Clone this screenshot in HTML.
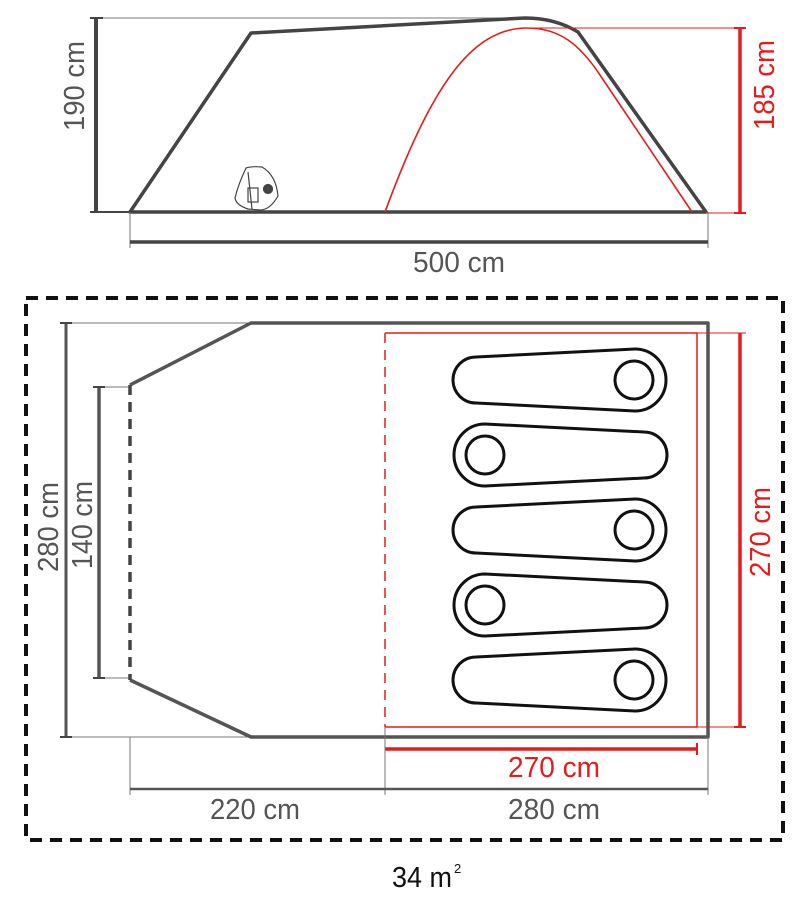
<!DOCTYPE html>
<html><head><meta charset="utf-8"><style>
html,body{margin:0;padding:0;background:#fff}
svg{display:block}
text{font-family:"Liberation Sans",Arial,sans-serif;font-size:29px}
</style></head><body>
<svg width="808" height="900" viewBox="0 0 808 900" xmlns="http://www.w3.org/2000/svg">
<!-- TOP SIDE VIEW -->
<line x1="96" y1="18" x2="528" y2="18" stroke="#777" stroke-width="1"/>
<line x1="96" y1="18" x2="96" y2="212" stroke="#444" stroke-width="4"/>
<line x1="90" y1="18" x2="103" y2="18" stroke="#444" stroke-width="2"/>
<line x1="90" y1="212" x2="130" y2="212" stroke="#444" stroke-width="2"/>
<text transform="translate(84,86) rotate(-90)" text-anchor="middle" fill="#555" textLength="90" lengthAdjust="spacingAndGlyphs">190 cm</text>
<path d="M130,212 L251,33 L525,18 Q555,18 578,32 L706,212 Z" fill="none" stroke="#444" stroke-width="3.5" stroke-linejoin="round"/>
<path d="M385,212 C430,90 470,28 527,28 C560,28 580,45 600,75 L692,212" fill="none" stroke="#e51c1c" stroke-width="1.6"/>
<line x1="527" y1="28" x2="745" y2="28" stroke="#e51c1c" stroke-width="1"/>
<line x1="706" y1="213" x2="745" y2="213" stroke="#e51c1c" stroke-width="1"/>
<line x1="740" y1="28" x2="740" y2="213" stroke="#e51c1c" stroke-width="3.5"/>
<line x1="734" y1="28" x2="746" y2="28" stroke="#e51c1c" stroke-width="2"/>
<line x1="734" y1="213" x2="746" y2="213" stroke="#e51c1c" stroke-width="2"/>
<text transform="translate(774,85) rotate(-90)" text-anchor="middle" fill="#e51c1c" textLength="90" lengthAdjust="spacingAndGlyphs">185 cm</text>
<line x1="130" y1="212" x2="130" y2="248" stroke="#777" stroke-width="1"/>
<line x1="708" y1="212" x2="708" y2="248" stroke="#777" stroke-width="1"/>
<line x1="130" y1="242" x2="708" y2="242" stroke="#444" stroke-width="3.5"/>
<text x="459" y="272" text-anchor="middle" fill="#555" textLength="92" lengthAdjust="spacingAndGlyphs">500 cm</text>
<!-- bag icon -->
<g fill="none" stroke="#444" stroke-width="1.2">
<path d="M246,168 Q252,166 262,167 Q276,175 278,196 Q270,210 260,210 L248,209 Q236,205 235,198 Q238,185 246,168 Z"/>
<path d="M248,172 L252,209"/>
<rect x="248" y="188" width="10" height="14"/>
<circle cx="268" cy="189" r="4.5" fill="#444"/>
</g>
<!-- BOTTOM PLAN -->
<rect x="26" y="298" width="757" height="542" fill="none" stroke="#111" stroke-width="4" stroke-dasharray="12,8"/>
<line x1="62" y1="323" x2="251" y2="323" stroke="#777" stroke-width="1"/>
<line x1="62" y1="737" x2="251" y2="737" stroke="#777" stroke-width="1"/>
<line x1="66" y1="323" x2="66" y2="737" stroke="#555" stroke-width="3"/>
<line x1="60" y1="323" x2="72" y2="323" stroke="#444" stroke-width="2"/>
<line x1="60" y1="737" x2="72" y2="737" stroke="#444" stroke-width="2"/>
<line x1="94" y1="387" x2="130" y2="387" stroke="#777" stroke-width="1"/>
<line x1="94" y1="678" x2="130" y2="678" stroke="#777" stroke-width="1"/>
<line x1="99" y1="387" x2="99" y2="678" stroke="#555" stroke-width="3.5"/>
<line x1="93" y1="387" x2="105" y2="387" stroke="#444" stroke-width="2"/>
<line x1="93" y1="678" x2="105" y2="678" stroke="#444" stroke-width="2"/>
<text transform="translate(58,527) rotate(-90)" text-anchor="middle" fill="#555" textLength="90" lengthAdjust="spacingAndGlyphs">280 cm</text>
<text transform="translate(92,525) rotate(-90)" text-anchor="middle" fill="#555" textLength="88" lengthAdjust="spacingAndGlyphs">140 cm</text>
<path d="M130,385 L251,323 L708,323 L708,737 L251,737 L130,680" fill="none" stroke="#555" stroke-width="3.5" stroke-linejoin="round"/>
<line x1="130" y1="385" x2="130" y2="680" stroke="#444" stroke-width="3.5" stroke-dasharray="10,7"/>
<!-- red inner -->
<path d="M385,333 L697,333 L697,727 L385,727" fill="none" stroke="#e51c1c" stroke-width="1.5"/>
<line x1="385" y1="333" x2="385" y2="727" stroke="#e51c1c" stroke-width="1.5" stroke-dasharray="10,7"/>
<line x1="697" y1="333" x2="746" y2="333" stroke="#e51c1c" stroke-width="1"/>
<line x1="697" y1="727" x2="746" y2="727" stroke="#e51c1c" stroke-width="1"/>
<line x1="740" y1="333" x2="740" y2="727" stroke="#e51c1c" stroke-width="3.5"/>
<line x1="734" y1="727" x2="746" y2="727" stroke="#e51c1c" stroke-width="2"/>
<text transform="translate(770,532) rotate(-90)" text-anchor="middle" fill="#e51c1c" textLength="90" lengthAdjust="spacingAndGlyphs">270 cm</text>
<line x1="385" y1="749" x2="697" y2="749" stroke="#e51c1c" stroke-width="3.5"/>
<line x1="697" y1="743" x2="697" y2="755" stroke="#e51c1c" stroke-width="2"/>
<text x="554" y="777" text-anchor="middle" fill="#e51c1c" textLength="92" lengthAdjust="spacingAndGlyphs">270 cm</text>
<line x1="130" y1="737" x2="130" y2="795" stroke="#777" stroke-width="1"/>
<line x1="385" y1="727" x2="385" y2="795" stroke="#777" stroke-width="1"/>
<line x1="708" y1="737" x2="708" y2="795" stroke="#777" stroke-width="1"/>
<line x1="130" y1="789" x2="708" y2="789" stroke="#555" stroke-width="2.5"/>
<text x="255" y="819" text-anchor="middle" fill="#555" textLength="90" lengthAdjust="spacingAndGlyphs">220 cm</text>
<text x="554" y="819" text-anchor="middle" fill="#555" textLength="92" lengthAdjust="spacingAndGlyphs">280 cm</text>
<text x="392" y="887" fill="#111" textLength="60" lengthAdjust="spacingAndGlyphs">34 m</text><text x="454" y="873" fill="#111" style="font-size:13px">2</text>
<!-- sleeping bags -->
<g fill="none" stroke="#111" stroke-width="3">
<path d="M476,357 L635,349 A31,31 0 0 1 635,411 L476,403 A23,23 0 0 1 476,357 Z"/>
<circle cx="634" cy="380" r="19"/>
<path d="M485,424 L644,432 A23,23 0 0 1 644,478 L485,486 A31,31 0 0 1 485,424 Z"/>
<circle cx="485" cy="455" r="19"/>
<path d="M476,507 L635,499 A31,31 0 0 1 635,561 L476,553 A23,23 0 0 1 476,507 Z"/>
<circle cx="634" cy="530" r="19"/>
<path d="M485,574 L644,582 A23,23 0 0 1 644,628 L485,636 A31,31 0 0 1 485,574 Z"/>
<circle cx="485" cy="605" r="19"/>
<path d="M476,657 L635,649 A31,31 0 0 1 635,711 L476,703 A23,23 0 0 1 476,657 Z"/>
<circle cx="634" cy="680" r="19"/>
</g>
</svg>
</body></html>
